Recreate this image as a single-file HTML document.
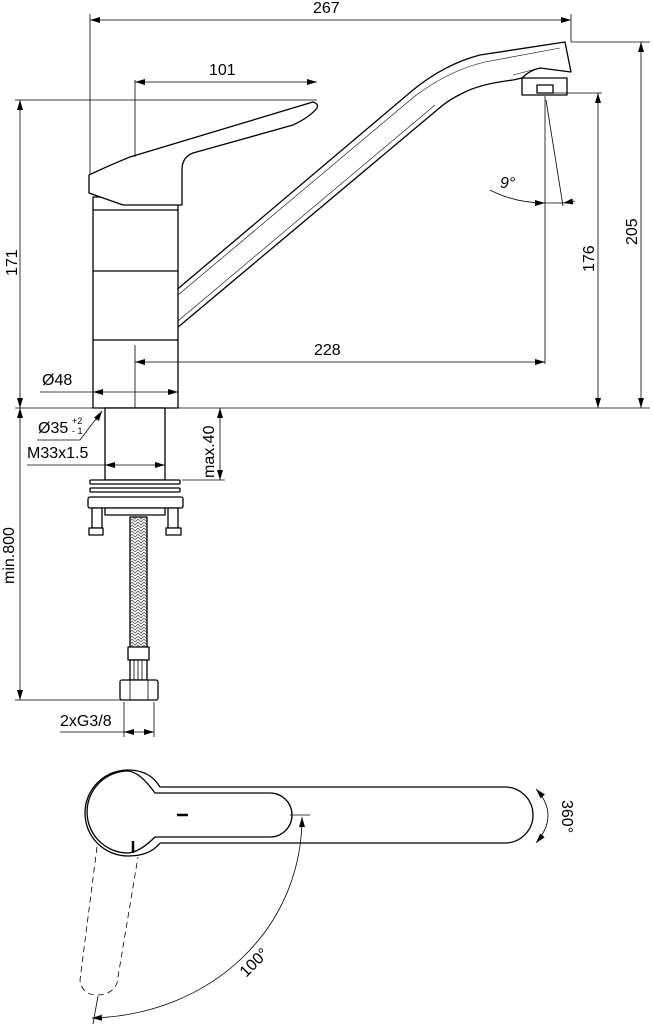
<!DOCTYPE html>
<html><head><meta charset="utf-8"><style>
html,body{margin:0;padding:0;background:#fff;}
svg{display:block;}
text{font-family:"Liberation Sans",Arial,sans-serif;fill:#000;}
</style></head><body>
<svg width="653" height="1024" viewBox="0 0 653 1024" xmlns="http://www.w3.org/2000/svg">
<defs>
<marker id="a" viewBox="0 0 10 6" refX="10" refY="3" markerWidth="10" markerHeight="6" markerUnits="userSpaceOnUse" orient="auto-start-reverse"><path d="M0,0 L10,3 L0,6 z" fill="#000"/></marker>
<pattern id="br" width="6" height="6" patternUnits="userSpaceOnUse"><path d="M0,0 L3,3 L6,0 M0,3 L3,6 L6,3" stroke="#555" stroke-width="0.8" fill="none"/></pattern>
</defs>
<g fill="#fff" stroke="#000" stroke-width="1.3" stroke-linejoin="round">
<!-- spout -->
<path d="M167,298 L413,90 Q445,64 480,55 L565,42 L571,72 L540,68 Q530,70 522,78 L513,80 Q480,84 463,93 Q448,100 437,110 L177,328 L167,328 Z"/>
<path d="M172,300 L415,96 Q450,70 485,62 L560,48" fill="none" stroke-width="0.6"/>
<path d="M172,326 L435,105" fill="none" stroke-width="0.6"/>
<path d="M513,75 L540,68" fill="none" stroke-width="0.6"/>
<rect x="522" y="78" width="45" height="17"/>
<rect x="537" y="85" width="16" height="8"/>
<!-- body -->
<rect x="93" y="197" width="85" height="211"/>
<line x1="93" y1="210" x2="178" y2="210"/>
<line x1="93" y1="271" x2="178" y2="271"/>
<line x1="93" y1="340" x2="178" y2="340"/>
<!-- lever -->
<path d="M89,175 Q110,165 130,157 L313,102 Q319,104 317,108 Q310,117 293,125 L193,153 Q182,157 182,170 L182,205 L123,205 L89,193 Z"/>
<!-- shank -->
<rect x="105" y="408" width="60" height="72"/>
<rect x="90" y="480" width="90" height="4" rx="1"/>
<rect x="90" y="488" width="90" height="4" rx="1"/>
<rect x="88" y="497" width="95" height="11" rx="2"/>
<rect x="105" y="508" width="60" height="7"/>
<rect x="92" y="508" width="10" height="20"/>
<rect x="89" y="528" width="14" height="7"/>
<rect x="168" y="508" width="10" height="20"/>
<rect x="166" y="528" width="15" height="7"/>
<rect x="130" y="517" width="17" height="131" fill="url(#br)"/>
<rect x="128" y="647" width="21" height="13"/>
<rect x="130" y="660" width="17" height="20"/>
<line x1="134" y1="660" x2="134" y2="680" stroke-width="0.8"/>
<line x1="138" y1="660" x2="138" y2="680" stroke-width="0.8"/>
<line x1="142" y1="660" x2="142" y2="680" stroke-width="0.8"/>
<rect x="120" y="680" width="38" height="20" rx="2"/>
<line x1="130" y1="680" x2="130" y2="700" stroke-width="0.8"/>
<line x1="148" y1="680" x2="148" y2="700" stroke-width="0.8"/>
</g>
<g fill="none" stroke="#000" stroke-width="0.8">
<line x1="90" y1="14" x2="90" y2="175"/>
<line x1="571" y1="14" x2="571" y2="42"/>
<line x1="90" y1="20" x2="571" y2="20" marker-start="url(#a)" marker-end="url(#a)"/>
<line x1="135" y1="80" x2="135" y2="157"/>
<line x1="135" y1="82" x2="317" y2="82" marker-start="url(#a)" marker-end="url(#a)"/>
<line x1="15" y1="100" x2="317" y2="100"/>
<line x1="20" y1="100" x2="20" y2="408" marker-start="url(#a)" marker-end="url(#a)"/>
<line x1="571" y1="42" x2="650" y2="42"/>
<line x1="641" y1="42" x2="641" y2="408" marker-start="url(#a)" marker-end="url(#a)"/>
<line x1="553" y1="93" x2="602" y2="93"/>
<line x1="598" y1="93" x2="598" y2="408" marker-start="url(#a)" marker-end="url(#a)"/>
<line x1="545" y1="96" x2="545" y2="364"/>
<line x1="546" y1="100" x2="563" y2="206"/>
<path d="M490,190 Q515,203 545,203" marker-end="url(#a)"/>
<path d="M575,201 L563,203" marker-end="url(#a)"/>
<line x1="545" y1="203" x2="563" y2="203"/>
<line x1="135" y1="345" x2="135" y2="408"/>
<line x1="135" y1="362" x2="545" y2="362" marker-start="url(#a)" marker-end="url(#a)"/>
<line x1="40" y1="392" x2="93" y2="392"/>
<line x1="93" y1="392" x2="178" y2="392" marker-start="url(#a)" marker-end="url(#a)"/>
<line x1="15" y1="408" x2="650" y2="408"/>
<line x1="20" y1="408" x2="20" y2="700" marker-start="url(#a)" marker-end="url(#a)"/>
<line x1="15" y1="700" x2="125" y2="700"/>
<polyline points="37,440 80,440 102,411" />
<path d="M96,420 L102,411" marker-end="url(#a)"/>
<line x1="27" y1="465" x2="105" y2="465"/>
<line x1="105" y1="465" x2="165" y2="465" marker-start="url(#a)" marker-end="url(#a)"/>
<line x1="220" y1="408" x2="220" y2="480" marker-start="url(#a)" marker-end="url(#a)"/>
<line x1="182" y1="480" x2="225" y2="480"/>
<line x1="124" y1="702" x2="124" y2="737"/>
<line x1="154" y1="702" x2="154" y2="737"/>
<line x1="60" y1="732" x2="124" y2="732"/>
<line x1="124" y1="732" x2="154" y2="732" marker-start="url(#a)" marker-end="url(#a)"/>
</g>
<!-- top view -->
<g fill="none" stroke="#000" stroke-width="1.3">
<path d="M160,787 L505,787 A28,28 0 0 1 505,843 L160,843"/>
<path d="M160,787 Q150,770 128,770 A43,43 0 0 0 128,856 Q150,856 160,843" fill="#fff"/>
<path d="M155,793 L270,793 A22,22 0 0 1 270,837 L155,837 Q140,852 128,853 A41,41 0 0 1 128,771 Q140,772 155,793 Z" fill="#fff"/>
<line x1="177" y1="815" x2="188" y2="815" stroke-width="2.5"/>
<line x1="133" y1="841" x2="133" y2="853" stroke-width="2.5"/>
</g>
<g fill="none" stroke="#000" stroke-width="0.8">
<path d="M97,847 L80,980 Q82,995 97,995 Q112,995 117,983 L138,857" stroke-dasharray="6,4"/>
<line x1="290" y1="815" x2="310" y2="815"/>
<path d="M302,817 C302,930 210,1015 92,1018" marker-start="url(#a)" marker-end="url(#a)"/>
<line x1="98" y1="996" x2="93" y2="1024"/>
<path d="M536,789 Q560,815 536,843" marker-start="url(#a)" marker-end="url(#a)"/>
</g>
<g font-size="16">
<text x="313" y="13">267</text>
<text x="209" y="75">101</text>
<text x="314" y="355">228</text>
<text x="42" y="385">Ø48</text>
<text x="38" y="433">Ø35</text>
<text x="72" y="424" font-size="9">+2</text>
<text x="72" y="434" font-size="9">- 1</text>
<text x="27" y="458">M33x1.5</text>
<text x="60" y="726">2xG3/8</text>
<text x="0" y="0" transform="translate(17,276) rotate(-90)">171</text>
<text x="0" y="0" transform="translate(637,245) rotate(-90)">205</text>
<text x="0" y="0" transform="translate(594,272) rotate(-90)">176</text>
<text x="0" y="0" transform="translate(214,478) rotate(-90)">max.40</text>
<text x="0" y="0" transform="translate(14,584) rotate(-90)">min.800</text>
<text x="0" y="0" transform="translate(246,978) rotate(-45)">100°</text>
<text x="0" y="0" transform="translate(562,800) rotate(90)">360°</text>
<text x="500" y="188" font-style="italic">9°</text>
</g>
</svg>
</body></html>
